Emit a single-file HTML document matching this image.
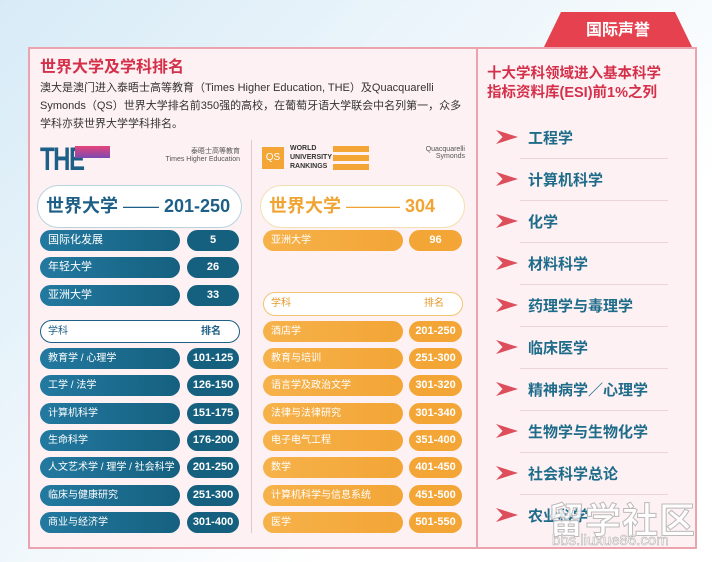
<!DOCTYPE html>
<html><head><meta charset="utf-8"><style>
*{margin:0;padding:0;box-sizing:border-box}
body{width:712px;height:562px;overflow:hidden;background:linear-gradient(135deg,#d7ebf7 0%,#eef6fb 40%,#fff 70%);font-family:"Liberation Sans","Noto Sans CJK SC",sans-serif;position:relative}
.a{position:absolute;white-space:nowrap}
.box{left:28px;top:47px;width:669px;height:502px;background:#fdf1f3;border:2px solid #eba3ae}
.tab{left:543px;top:12px;width:150px;height:37px;background:#e5414f;clip-path:polygon(12% 0,88% 0,100% 100%,0 100%);color:#fff;font-size:16px;font-weight:bold;text-align:center;line-height:37px}
.bl{background:linear-gradient(90deg,#2379a0,#15607f);color:#fff;border-radius:11px;height:21px;line-height:21px;font-size:11px;padding-left:8px}
.br{background:#15607f;color:#fff;border-radius:11px;height:21px;line-height:21px;font-size:11px;text-align:center;font-weight:bold}
.ol{background:linear-gradient(90deg,#f6b24a,#f3a536);color:#fff;border-radius:11px;height:21px;line-height:21px;font-size:10px;padding-left:8px}
.or{background:#f3a536;color:#fff;border-radius:11px;height:21px;line-height:21px;font-size:11px;text-align:center;font-weight:bold}
.li{left:528px;font-size:15px;color:#1e6c8a;font-weight:bold}
.ar{left:496px;width:22px;height:14px;background:#de4d5a;clip-path:polygon(0 0,100% 50%,0 100%,30% 50%)}
.sep{left:520px;width:148px;height:1px;background:#ecd3d8}
</style></head><body>
<div class="a tab">国际声誉</div>
<div class="a box"></div>
<div class="a" style="left:476px;top:48px;width:2px;height:500px;background:#eba3ae"></div>
<div class="a" style="left:40px;top:58px;font-size:16px;line-height:20px;font-weight:bold;color:#d5304a">世界大学及学科排名</div>
<div class="a" style="left:40px;top:79px;width:432px;font-size:11px;line-height:18px;color:#333;white-space:normal">澳大是澳门进入泰晤士高等教育（Times Higher Education, THE）及Quacquarelli Symonds（QS）世界大学排名前350强的高校，在葡萄牙语大学联会中名列第一，众多学科亦获世界大学学科排名。</div>
<div class="a" style="left:487px;top:65px;font-size:14.5px;line-height:19px;font-weight:bold;color:#d5304a">十大学科领域进入基本科学<br>指标资料库(ESI)前1%之列</div>
<div class="a" style="left:251px;top:140px;width:1px;height:393px;background:#e0c8cc"></div>
<div class="a" style="left:40px;top:141px;font-size:32px;font-weight:bold;color:#1d5f86;letter-spacing:-2px;transform:scaleX(.75);transform-origin:left">THE</div>
<div class="a" style="left:75px;top:146px;width:35px;height:12px;background:linear-gradient(#e8437a,#7a4ab0)"></div>
<div class="a" style="left:160px;top:146px;font-size:7px;color:#555;text-align:right;width:80px">泰晤士高等教育<br>Times Higher Education</div>
<div class="a" style="left:262px;top:147px;width:22px;height:22px;background:#f3a536;color:#fff;font-size:10px;text-align:center;line-height:22px">QS</div>
<div class="a" style="left:290px;top:144px;font-size:7px;line-height:9px;font-weight:bold;color:#333">WORLD<br>UNIVERSITY<br>RANKINGS</div>
<div class="a" style="left:333px;top:146px;width:36px;height:24px;background:repeating-linear-gradient(#f3a536 0 6px,transparent 6px 9px)"></div>
<div class="a" style="left:410px;top:146px;font-size:7px;color:#555;text-align:right;width:55px">Quacquarelli<br>Symonds</div>
<div class="a" style="left:37px;top:185px;width:205px;height:43px;background:#fff;border-radius:22px;border:1px solid #b9d3dd;font-size:18px;font-weight:bold;color:#1d5f86;line-height:41px;padding-left:8px">世界大学 <span style="font-weight:normal">——</span> 201-250</div>
<div class="a" style="left:260px;top:185px;width:205px;height:43px;background:#fff;border-radius:22px;border:1px solid #f3dfb3;font-size:18px;font-weight:bold;color:#f0a434;line-height:41px;padding-left:8px">世界大学 <span style="font-weight:normal">———</span> 304</div>
<div class="a bl" style="left:40px;top:230px;width:140px">国际化发展</div><div class="a br" style="left:187px;top:230px;width:52px">5</div>
<div class="a bl" style="left:40px;top:257px;width:140px">年轻大学</div><div class="a br" style="left:187px;top:257px;width:52px">26</div>
<div class="a bl" style="left:40px;top:285px;width:140px">亚洲大学</div><div class="a br" style="left:187px;top:285px;width:52px">33</div>
<div class="a ol" style="left:263px;top:230px;width:140px">亚洲大学</div><div class="a or" style="left:409px;top:230px;width:53px">96</div>
<div class="a" style="left:40px;top:320px;width:200px;height:23px;background:#fff;border-radius:12px;border:1px solid #1d5f86;font-size:10px;color:#1d5f86;line-height:21px;padding-left:7px">学科<span style="position:absolute;left:160px;font-weight:bold">排名</span></div>
<div class="a" style="left:263px;top:292px;width:200px;height:24px;background:#fff;border-radius:12px;border:1px solid #f3c46e;font-size:10px;color:#e59b2e;line-height:22px;padding-left:7px">学科<span style="position:absolute;left:160px">排名</span></div>
<div class="a bl" style="left:40px;top:348px;width:140px;font-size:10px">教育学 / 心理学</div><div class="a br" style="left:187px;top:348px;width:52px">101-125</div>
<div class="a bl" style="left:40px;top:375px;width:140px;font-size:10px">工学 / 法学</div><div class="a br" style="left:187px;top:375px;width:52px">126-150</div>
<div class="a bl" style="left:40px;top:403px;width:140px;font-size:10px">计算机科学</div><div class="a br" style="left:187px;top:403px;width:52px">151-175</div>
<div class="a bl" style="left:40px;top:430px;width:140px;font-size:10px">生命科学</div><div class="a br" style="left:187px;top:430px;width:52px">176-200</div>
<div class="a bl" style="left:40px;top:457px;width:140px;font-size:10px">人文艺术学 / 理学 / 社会科学</div><div class="a br" style="left:187px;top:457px;width:52px">201-250</div>
<div class="a bl" style="left:40px;top:485px;width:140px;font-size:10px">临床与健康研究</div><div class="a br" style="left:187px;top:485px;width:52px">251-300</div>
<div class="a bl" style="left:40px;top:512px;width:140px;font-size:10px">商业与经济学</div><div class="a br" style="left:187px;top:512px;width:52px">301-400</div>
<div class="a ol" style="left:263px;top:321px;width:140px">酒店学</div><div class="a or" style="left:409px;top:321px;width:53px">201-250</div>
<div class="a ol" style="left:263px;top:348px;width:140px">教育与培训</div><div class="a or" style="left:409px;top:348px;width:53px">251-300</div>
<div class="a ol" style="left:263px;top:375px;width:140px">语言学及政治文学</div><div class="a or" style="left:409px;top:375px;width:53px">301-320</div>
<div class="a ol" style="left:263px;top:403px;width:140px">法律与法律研究</div><div class="a or" style="left:409px;top:403px;width:53px">301-340</div>
<div class="a ol" style="left:263px;top:430px;width:140px">电子电气工程</div><div class="a or" style="left:409px;top:430px;width:53px">351-400</div>
<div class="a ol" style="left:263px;top:457px;width:140px">数学</div><div class="a or" style="left:409px;top:457px;width:53px">401-450</div>
<div class="a ol" style="left:263px;top:485px;width:140px">计算机科学与信息系统</div><div class="a or" style="left:409px;top:485px;width:53px">451-500</div>
<div class="a ol" style="left:263px;top:512px;width:140px">医学</div><div class="a or" style="left:409px;top:512px;width:53px">501-550</div>
<div class="a ar" style="top:130px"></div><div class="a li" style="top:127px">工程学</div><div class="a sep" style="top:158px"></div>
<div class="a ar" style="top:172px"></div><div class="a li" style="top:169px">计算机科学</div><div class="a sep" style="top:200px"></div>
<div class="a ar" style="top:214px"></div><div class="a li" style="top:211px">化学</div><div class="a sep" style="top:242px"></div>
<div class="a ar" style="top:256px"></div><div class="a li" style="top:253px">材料科学</div><div class="a sep" style="top:284px"></div>
<div class="a ar" style="top:298px"></div><div class="a li" style="top:295px">药理学与毒理学</div><div class="a sep" style="top:326px"></div>
<div class="a ar" style="top:340px"></div><div class="a li" style="top:337px">临床医学</div><div class="a sep" style="top:368px"></div>
<div class="a ar" style="top:382px"></div><div class="a li" style="top:379px">精神病学／心理学</div><div class="a sep" style="top:410px"></div>
<div class="a ar" style="top:424px"></div><div class="a li" style="top:421px">生物学与生物化学</div><div class="a sep" style="top:452px"></div>
<div class="a ar" style="top:466px"></div><div class="a li" style="top:463px">社会科学总论</div><div class="a sep" style="top:494px"></div>
<div class="a ar" style="top:508px"></div><div class="a li" style="top:505px">农业科学</div>
<div class="a" style="left:548px;top:492px;font-size:36px;font-weight:bold;color:rgba(255,255,255,.85);-webkit-text-stroke:1px #bbb;letter-spacing:1px">留学社区</div>
<div class="a" style="left:552px;top:532px;font-size:15px;color:rgba(255,255,255,.9);-webkit-text-stroke:.5px #aaa">bbs.liuxue86.com</div>
</body></html>
